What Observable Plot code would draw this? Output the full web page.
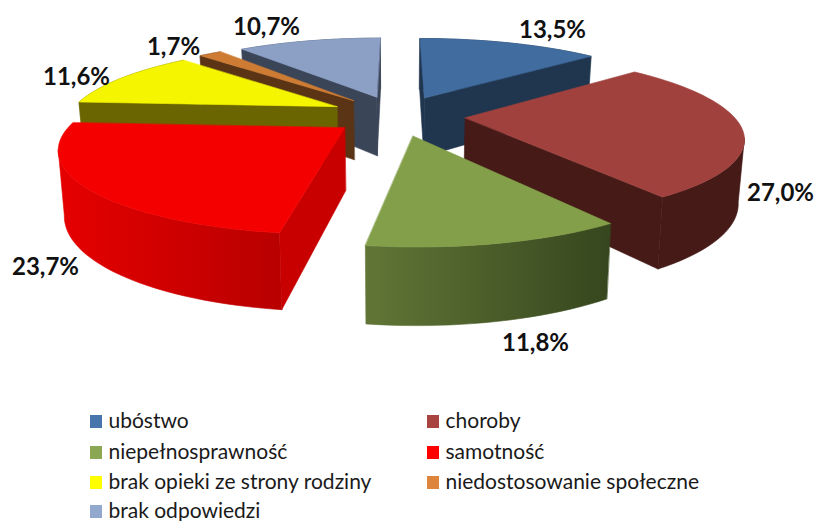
<!DOCTYPE html>
<html><head><meta charset="utf-8">
<script src="https://cdn.jsdelivr.net/npm/d3@7"></script>
<script src="https://cdn.jsdelivr.net/npm/@observablehq/plot@0.6"></script>
<style>html,body{margin:0;padding:0;background:#fff}svg{display:block}</style>
</head><body><div id="chart"></div>
<script>
const categories = ["ubóstwo","choroby","niepełnosprawność","samotność","brak opieki ze strony rodziny","niedostosowanie społeczne","brak odpowiedzi"];
const values = [13.5,27.0,11.8,23.7,11.6,1.7,10.7];
const valueLabels = ["13,5%","27,0%","11,8%","23,7%","11,6%","1,7%","10,7%"];
const topColors = ["#416C9F","#A0413E","#839F4A","#F50000","#F5F500","#CE7C34","#8CA0C6"];
const legendColors = ["#4775AC","#A84340","#8CA753","#FF0000","#FFFF00","#DD843D","#93A8CE"];
const radialColors = ["#20364F","#451A17","#3A4A20","#C80000","#6A6500","#5A3415","#3A4558"];
const arcLeft  = ["#20364F","#451A17","#617636","#E60000","#6A6500","#5A3415","#3A4558"];
const arcRight = ["#20364F","#451A17","#36461E","#B80000","#6A6500","#5A3415","#3A4558"];
const drawOrder = [6,5,4,3,0,1,2];
const labelX = [552,780,535,45,76,173,266];
const labelY = [30,193,343,267,77,47,27];
const legendX = [90,427,90,427,90,427,90];
const legendY = [421,421,452,452,482,482,511];
const nudgeX = [1,2,0,0,-2,-2,0];
const nudgeY = [0,1,2,1,0,0,0];

// projection of the exploded disc
const cx=397, cy=113.9, S=268, A=78, k=0.21, explode=0.245, shrink=0.982, d0=61, d1=0.135;
const topP=(X,Y)=>{const w=1+k*Y;return [cx+S*X/w, cy-A*Y/w];};
const botP=(X,Y)=>{const [x,y]=topP(X,Y);return [cx+(x-cx)*shrink, y+d0+d1*(y-cy)];};
const rad=d=>d*Math.PI/180;
const rows=[]; let pid=0;
const addPoly=(pts,color,i)=>{const id=pid++;for(const [x,y] of pts)rows.push({id,x:x+nudgeX[i],y:y+nudgeY[i],color});};
const total=d3.sum(values);
const starts=d3.cumsum([0,...values]).map(v=>v/total*360);
const geo=values.map((v,i)=>{
  const a0=starts[i],a1=starts[i+1],m=rad((a0+a1)/2);
  const ox=explode*Math.sin(m),oy=explode*Math.cos(m);
  const n=Math.max(2,Math.ceil((a1-a0)/2));
  const arc=d3.range(n+1).map(j=>{const t=rad(a0+(a1-a0)*j/n);return [ox+Math.sin(t),oy+Math.cos(t)];});
  return {ox,oy,arc,n};
});
for(const i of drawOrder){
  const {ox,oy,arc,n}=geo[i];
  const apex=[ox,oy];
  const quad=(a,b)=>[topP(...a),topP(...b),botP(...b),botP(...a)];
  // part of the outer wall that faces the viewer: stop at the silhouette points
  const xs=arc.map(p=>topP(...p)[0]);
  const iFront=d3.minIndex(arc,p=>p[1]);
  let lo=0,hi=n;
  for(const e of [d3.minIndex(xs),d3.maxIndex(xs)]){
    if(e>0&&e<n){ if(e<iFront) lo=e; else hi=e; }
  }
  const wall=arc.slice(lo,hi+1);
  addPoly([...wall.map(p=>topP(...p)),...wall.slice().reverse().map(p=>botP(...p))],`url(#arc${i})`,i);
  for(const [a,b] of [[apex,arc[0]],[arc[n],apex]]){
    const q=quad(a,b);
    if(d3.polygonArea(q)>0) addPoly(q,radialColors[i],i);
  }
  addPoly([apex,...arc].map(p=>topP(...p)),topColors[i],i);
}
const gradients=()=>{
  const defs=d3.create("svg:defs");
  values.forEach((v,i)=>{
    const g=defs.append("linearGradient").attr("id",`arc${i}`);
    g.append("stop").attr("offset","0%").attr("stop-color",arcLeft[i]);
    g.append("stop").attr("offset","100%").attr("stop-color",arcRight[i]);
  });
  return defs.node();
};
const labels=valueLabels.map((t,i)=>({t,x:labelX[i],y:labelY[i]}));
const legend=categories.map((t,i)=>({t,x:legendX[i],y:legendY[i],c:legendColors[i]}));
const font="Lato, Carlito, sans-serif";
const chart=Plot.plot({
  width:816,height:521,margin:0,
  style:{background:"#fff",fontFamily:font},
  x:{domain:[0,816],range:[0,816],axis:null},
  y:{domain:[0,521],range:[0,521],axis:null},
  color:{type:"identity"},
  marks:[
    gradients,
    Plot.line(rows,{x:"x",y:"y",z:"id",fill:"color",stroke:"color",strokeWidth:0.6,strokeLinejoin:"round",curve:"linear-closed"}),
    Plot.text(labels,{x:"x",y:"y",text:"t",fontSize:24,fontWeight:700,fill:"#111",fontFamily:font}),
    Plot.rect(legend,{x1:d=>d.x,x2:d=>d.x+12,y1:d=>d.y-6,y2:d=>d.y+7,fill:"c"}),
    Plot.text(legend,{x:d=>d.x+18,y:"y",text:"t",textAnchor:"start",fontSize:21,fill:"#1a1a1a",fontFamily:font})
  ]
});
document.getElementById("chart").append(chart);
</script></body></html>
